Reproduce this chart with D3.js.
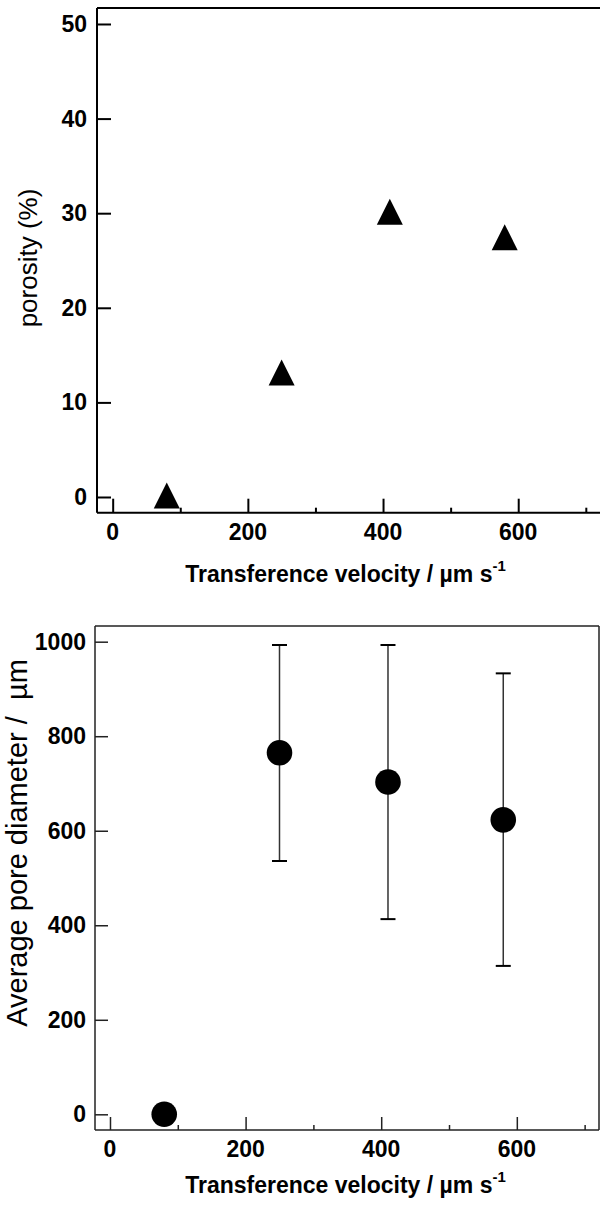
<!DOCTYPE html>
<html>
<head>
<meta charset="utf-8">
<script src="https://cdn.jsdelivr.net/npm/d3@7"></script>
<style>
  html, body { margin: 0; padding: 0; background: #fff; }
  svg { display: block; }
  text { font-family: "Liberation Sans", Arial, Helvetica, sans-serif; fill: #000; }
</style>
</head>
<body>
<svg id="chart" width="600" height="1205"></svg>
<script>
// ---- data ----
const velocity = [80, 250, 410, 580];
const porosity = [0, 13, 30, 27.3];
const poreDiameter = [0, 765, 703, 623];
const poreLow = [null, 536, 413, 314];
const poreHigh = [null, 993, 993, 933];

const xMajorTicks = [0, 200, 400, 600];
const xMinorTicks = [100, 300, 500, 700];
const porosityTicks = [0, 10, 20, 30, 40, 50];
const diameterTicks = [0, 200, 400, 600, 800, 1000];

const xTitle = "Transference velocity / µm s";
const topYTitle = "porosity (%)";
const bottomYTitle = "Average pore diameter /  µm";

const svg = d3.select("#chart");

function panel(cfg) {
  const g = svg.append("g");
  const x = d3.scaleLinear().domain(cfg.xDomain).range([cfg.left, cfg.right]);
  const y = d3.scaleLinear().domain(cfg.yDomain).range([cfg.bottom, cfg.top]);

  const xAx = g.append("g").attr("transform", `translate(0,${cfg.bottom})`)
    .call(d3.axisTop(x).tickValues(xMajorTicks).tickSize(cfg.majorTick).tickFormat(""));
  const xAxMin = g.append("g").attr("transform", `translate(0,${cfg.bottom})`)
    .call(d3.axisTop(x).tickValues(xMinorTicks).tickSize(5).tickFormat(""));
  [xAx, xAxMin].forEach(a => {
    a.select(".domain").remove();
    a.selectAll(".tick line").attr("stroke", cfg.color).attr("stroke-width", cfg.tickW);
  });
  g.append("g").selectAll("text").data(xMajorTicks).join("text")
    .attr("x", d => x(d)).attr("y", cfg.bottom + 27)
    .attr("text-anchor", "middle").attr("font-size", 23).attr("font-weight", "bold")
    .text(d => d);

  const yAx = g.append("g").attr("transform", `translate(${cfg.left},0)`)
    .call(d3.axisRight(y).tickValues(cfg.yTicks).tickSize(cfg.majorTick).tickFormat(""));
  yAx.select(".domain").remove();
  yAx.selectAll(".tick line").attr("stroke", cfg.color).attr("stroke-width", cfg.tickW);
  g.append("g").selectAll("text").data(cfg.yTicks).join("text")
    .attr("x", cfg.left - cfg.yLabelGap).attr("y", d => y(d) + 8)
    .attr("text-anchor", "end").attr("font-size", 23).attr("font-weight", "bold")
    .text(d => d);

  const fr = g.append("g").attr("stroke", cfg.color).attr("stroke-width", cfg.frameW).attr("fill", "none");
  fr.append("line").attr("x1", cfg.left).attr("x2", cfg.right).attr("y1", cfg.bottom).attr("y2", cfg.bottom);
  fr.append("line").attr("x1", cfg.left).attr("x2", cfg.left).attr("y1", cfg.top).attr("y2", cfg.bottom);
  fr.append("line").attr("x1", cfg.left).attr("x2", cfg.right).attr("y1", cfg.top).attr("y2", cfg.top);
  if (cfg.rightLine) {
    fr.append("line").attr("x1", cfg.right).attr("x2", cfg.right).attr("y1", cfg.top).attr("y2", cfg.bottom);
  }

  const xt = g.append("text")
    .attr("x", 345.5).attr("y", cfg.bottom + cfg.xTitleOffset)
    .attr("text-anchor", "middle").attr("font-size", 23).attr("font-weight", "bold");
  xt.append("tspan").text(xTitle);
  xt.append("tspan").attr("font-size", 15).attr("dy", -11).text("-1");

  g.append("text")
    .attr("transform", `translate(${cfg.yTitleX},${cfg.yTitleY}) rotate(-90)`)
    .attr("text-anchor", "middle").attr("font-size", cfg.yTitleSize)
    .attr("font-weight", cfg.yTitleWeight)
    .attr("xml:space", "preserve").style("white-space", "pre")
    .text(cfg.yTitle);

  return { g, x, y };
}

// ---- top panel: porosity ----
const topPanel = panel({
  left: 97, right: 600, top: 8, bottom: 512.7,
  xDomain: [-23.2, 721], yDomain: [-1.66, 51.69],
  yTicks: porosityTicks, majorTick: 14, tickW: 2, frameW: 2, color: "#000",
  rightLine: false, yLabelGap: 10, xTitleOffset: 69,
  yTitle: topYTitle, yTitleX: 37, yTitleY: 258, yTitleSize: 26, yTitleWeight: "normal"
});

const tri = (cx, cy) => `M${cx},${cy - 14.5}L${cx + 13},${cy + 11.5}L${cx - 13},${cy + 11.5}Z`;
topPanel.g.append("g").selectAll("path").data(velocity.map((v, i) => [v, porosity[i]])).join("path")
  .attr("d", d => tri(topPanel.x(d[0]), topPanel.y(d[1])))
  .attr("fill", "#000");

// ---- bottom panel: pore diameter ----
const botPanel = panel({
  left: 95, right: 599, top: 626, bottom: 1130,
  xDomain: [-22.1, 721.2], yDomain: [-33.2, 1033.2],
  yTicks: diameterTicks, majorTick: 13, tickW: 1.5, frameW: 1.5, color: "#222",
  rightLine: true, yLabelGap: 9, xTitleOffset: 63,
  yTitle: bottomYTitle, yTitleX: 27, yTitleY: 843, yTitleSize: 29, yTitleWeight: "normal"
});

const errData = velocity.map((v, i) => ({ v, m: poreDiameter[i], lo: poreLow[i], hi: poreHigh[i] }))
  .filter(d => d.lo !== null);
const eb = botPanel.g.append("g").attr("stroke", "#333").attr("stroke-width", 1.5);
eb.selectAll(".stem").data(errData).join("line").attr("class", "stem")
  .attr("x1", d => botPanel.x(d.v)).attr("x2", d => botPanel.x(d.v))
  .attr("y1", d => botPanel.y(d.lo)).attr("y2", d => botPanel.y(d.hi));
eb.selectAll(".capHi").data(errData).join("line").attr("class", "capHi")
  .attr("x1", d => botPanel.x(d.v) - 7.5).attr("x2", d => botPanel.x(d.v) + 7.5)
  .attr("y1", d => botPanel.y(d.hi)).attr("y2", d => botPanel.y(d.hi)).attr("stroke", "#000").attr("stroke-width", 2);
eb.selectAll(".capLo").data(errData).join("line").attr("class", "capLo")
  .attr("x1", d => botPanel.x(d.v) - 7.5).attr("x2", d => botPanel.x(d.v) + 7.5)
  .attr("y1", d => botPanel.y(d.lo)).attr("y2", d => botPanel.y(d.lo)).attr("stroke", "#000").attr("stroke-width", 2);

botPanel.g.append("g").selectAll("circle").data(velocity.map((v, i) => [v, poreDiameter[i]])).join("circle")
  .attr("cx", d => botPanel.x(d[0])).attr("cy", d => botPanel.y(d[1])).attr("r", 12.8)
  .attr("fill", "#000");
</script>
</body>
</html>
